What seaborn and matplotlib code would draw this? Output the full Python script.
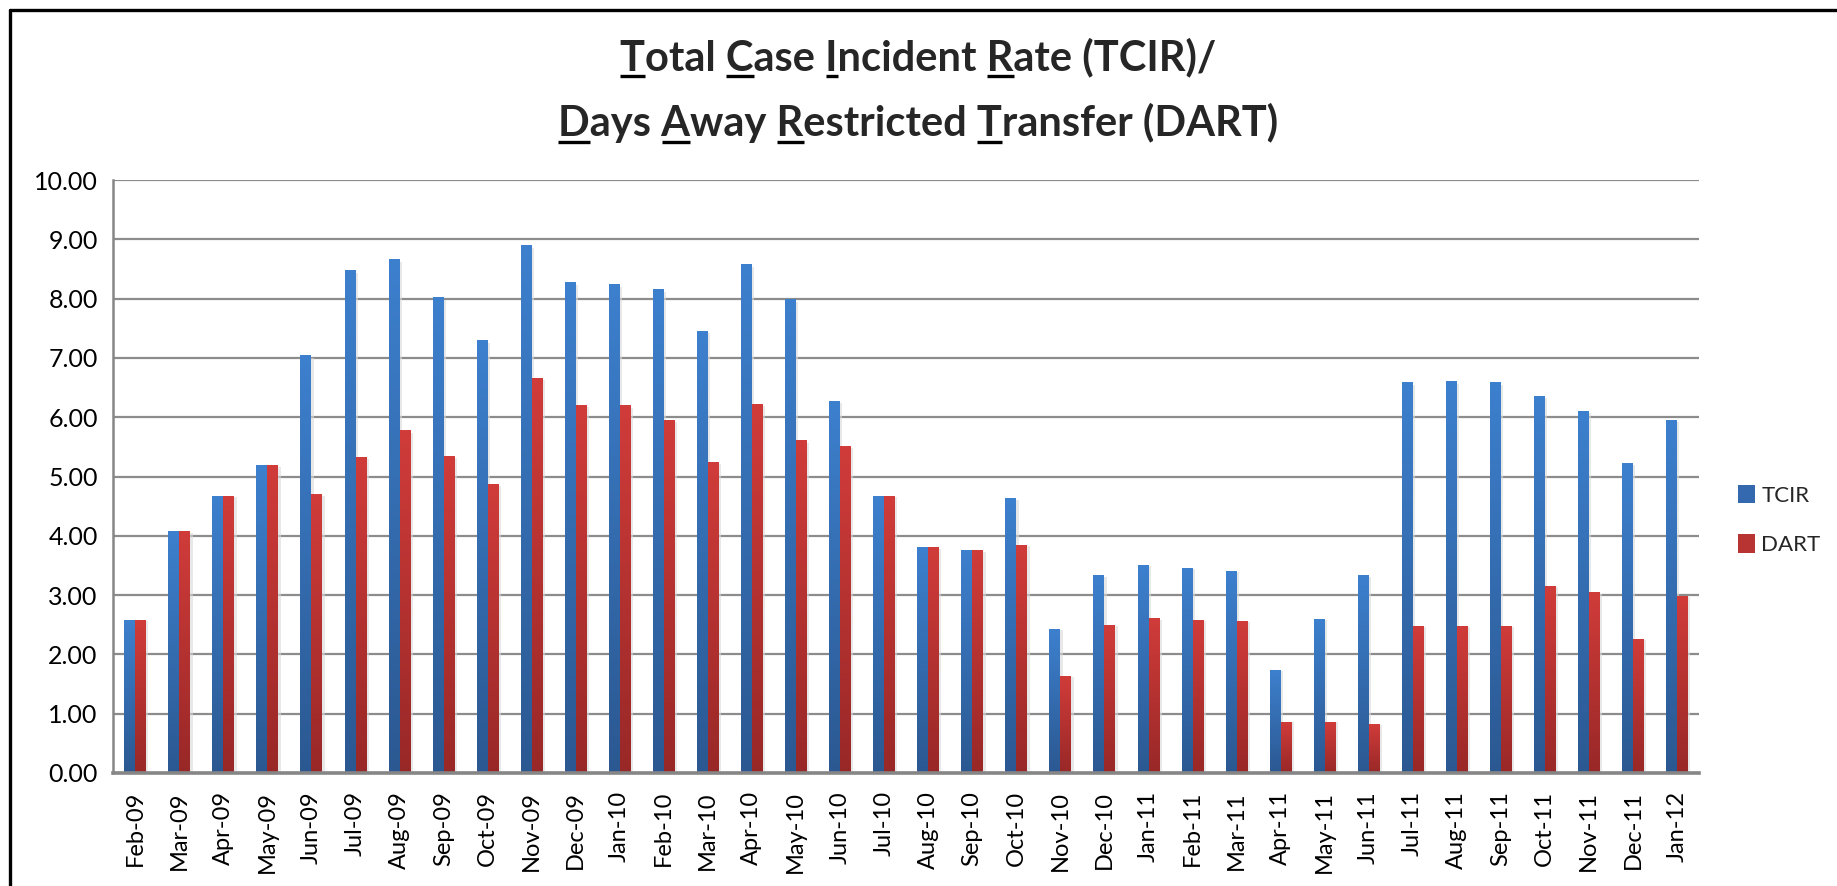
import numpy as np
import pandas as pd
import matplotlib
matplotlib.use("Agg")
import matplotlib.pyplot as plt
from matplotlib.colors import LinearSegmentedColormap
from matplotlib.patches import Patch, Rectangle
from matplotlib.lines import Line2D
import seaborn as sns

months = ["Feb-09", "Mar-09", "Apr-09", "May-09", "Jun-09", "Jul-09", "Aug-09", "Sep-09",
          "Oct-09", "Nov-09", "Dec-09", "Jan-10", "Feb-10", "Mar-10", "Apr-10", "May-10",
          "Jun-10", "Jul-10", "Aug-10", "Sep-10", "Oct-10", "Nov-10", "Dec-10", "Jan-11",
          "Feb-11", "Mar-11", "Apr-11", "May-11", "Jun-11", "Jul-11", "Aug-11", "Sep-11",
          "Oct-11", "Nov-11", "Dec-11", "Jan-12"]
tcir = [2.58, 4.07, 4.67, 5.18, 7.04, 8.47, 8.66, 8.02, 7.29, 8.89, 8.27, 8.23,
        8.16, 7.45, 8.57, 7.98, 6.27, 4.67, 3.80, 3.75, 4.63, 2.42, 3.33, 3.50,
        3.45, 3.40, 1.73, 2.59, 3.33, 6.58, 6.60, 6.58, 6.35, 6.10, 5.22, 5.95]
dart = [2.58, 4.07, 4.67, 5.18, 4.69, 5.32, 5.77, 5.34, 4.87, 6.66, 6.20, 6.19,
        5.95, 5.23, 6.22, 5.60, 5.50, 4.67, 3.80, 3.75, 3.84, 1.63, 2.49, 2.60,
        2.58, 2.56, 0.86, 0.86, 0.81, 2.47, 2.47, 2.47, 3.15, 3.04, 2.25, 2.98]
series_names = ["TCIR", "DART"]
title_lines = ["Total Case Incident Rate (TCIR)/", "Days Away Restricted Transfer (DART)"]
underline_idx = [[0, 6, 11, 20], [0, 5, 10, 21]]
y_ticks = [0, 1, 2, 3, 4, 5, 6, 7, 8, 9, 10]

df = pd.DataFrame({
    "month": months * 2,
    "series": [series_names[0]] * len(months) + [series_names[1]] * len(months),
    "value": tcir + dart,
})

sns.set_theme(style="white")
FONT = ["Lato", "DejaVu Sans"]
plt.rcParams["font.family"] = FONT

W, H = 1837, 886
AX_L, AX_R, AX_T, AX_B = 113, 1699, 180, 773
fig = plt.figure(figsize=(W / 100, H / 100), dpi=100)
ax = fig.add_axes([AX_L / W, 1 - AX_B / H, (AX_R - AX_L) / W, (AX_B - AX_T) / H])

blue_mid, red_mid = "#3469B0", "#B83433"
sns.barplot(data=df, x="month", y="value", hue="series", palette=[blue_mid, red_mid],
            width=0.5, gap=0.04, ax=ax, legend=False, saturation=1, edgecolor="none")

# gradient fills for each bar
blue_cmap = LinearSegmentedColormap.from_list("b", ["#2B5891", "#3D80CE"])
red_cmap = LinearSegmentedColormap.from_list("r", ["#982827", "#D03C3A"])
grad = np.linspace(0, 1, 256).reshape(-1, 1)
for p in list(ax.patches):
    x0, w, h = p.get_x(), p.get_width(), p.get_height()
    if h <= 0:
        continue
    fc = p.get_facecolor()
    cmap = blue_cmap if fc[2] > fc[0] else red_cmap
    ax.imshow(grad, extent=[x0, x0 + w, 0, h], origin="lower", aspect="auto",
              cmap=cmap, zorder=2.5, interpolation="bilinear")
    ax.add_patch(Rectangle((x0 + w, 0), w * 0.25, h * 0.995, facecolor="#d9d9d9",
                           edgecolor="none", zorder=1.5, alpha=0.6))

ax.set_xlim(-0.5, len(months) - 0.5)
ax.set_ylim(0, 10)
ax.set_yticks(y_ticks)
ax.set_yticklabels([f"{v:.2f}" for v in y_ticks], fontsize=18, color="black")
ax.set_xticks(range(len(months)))
ax.set_xticklabels(months, rotation=90, fontsize=17, color="black")
ax.set_xlabel("")
ax.set_ylabel("")
ax.tick_params(axis="y", length=0, pad=11)
ax.tick_params(axis="x", length=0, pad=13)
ax.yaxis.grid(True, color="#8C8C8C", linewidth=1.6)
ax.xaxis.grid(False)
ax.set_axisbelow(True)
for s in ["top", "right"]:
    ax.spines[s].set_visible(False)
ax.spines["left"].set_color("#868686")
ax.spines["left"].set_linewidth(1.8)
ax.spines["bottom"].set_color("#868686")
ax.spines["bottom"].set_linewidth(2.6)
ax.set_facecolor("white")

# legend
handles = [Patch(facecolor="#3469B0", edgecolor="none"), Patch(facecolor="#B83433", edgecolor="none")]
fig.legend(handles, series_names, loc="center left", bbox_to_anchor=(1718 / W, 1 - 520 / H),
           frameon=False, fontsize=16, handlelength=0.75, handleheight=0.9,
           handletextpad=0.3, labelspacing=1.3)

# frame lines (top and left)
fig.add_artist(Line2D([10 / W, 1], [1 - 10 / H, 1 - 10 / H], color="black", linewidth=2.4,
                      transform=fig.transFigure))
fig.add_artist(Line2D([10 / W, 10 / W], [0, 1 - 10 / H], color="black", linewidth=2.4,
                      transform=fig.transFigure))

# title with underlined initials
renderer = fig.canvas.get_renderer()
tsize = 30
baselines = [70, 136]
cx = 0.5
for line, idxs, by in zip(title_lines, underline_idx, baselines):
    t = fig.text(cx, 1 - by / H, line, ha="center", va="baseline", fontsize=tsize,
                 fontweight="bold", family=FONT)
    bb = t.get_window_extent(renderer)
    left = bb.x0
    for i in idxs:
        tmp = fig.text(0, 0, line[: i + 1], fontsize=tsize, fontweight="bold", family=FONT)
        wfull = tmp.get_window_extent(renderer).width
        tmp.remove()
        tmp = fig.text(0, 0, line[i], fontsize=tsize, fontweight="bold", family=FONT)
        wch = tmp.get_window_extent(renderer).width
        tmp.remove()
        xr = left + wfull
        xl = xr - wch
        yy = (H - by) - 6
        fig.add_artist(Line2D([xl / W, xr / W], [yy / H, yy / H], color="black",
                              linewidth=2.4, transform=fig.transFigure, solid_capstyle="butt"))

fig.savefig("out.png", dpi=100, facecolor="white")
